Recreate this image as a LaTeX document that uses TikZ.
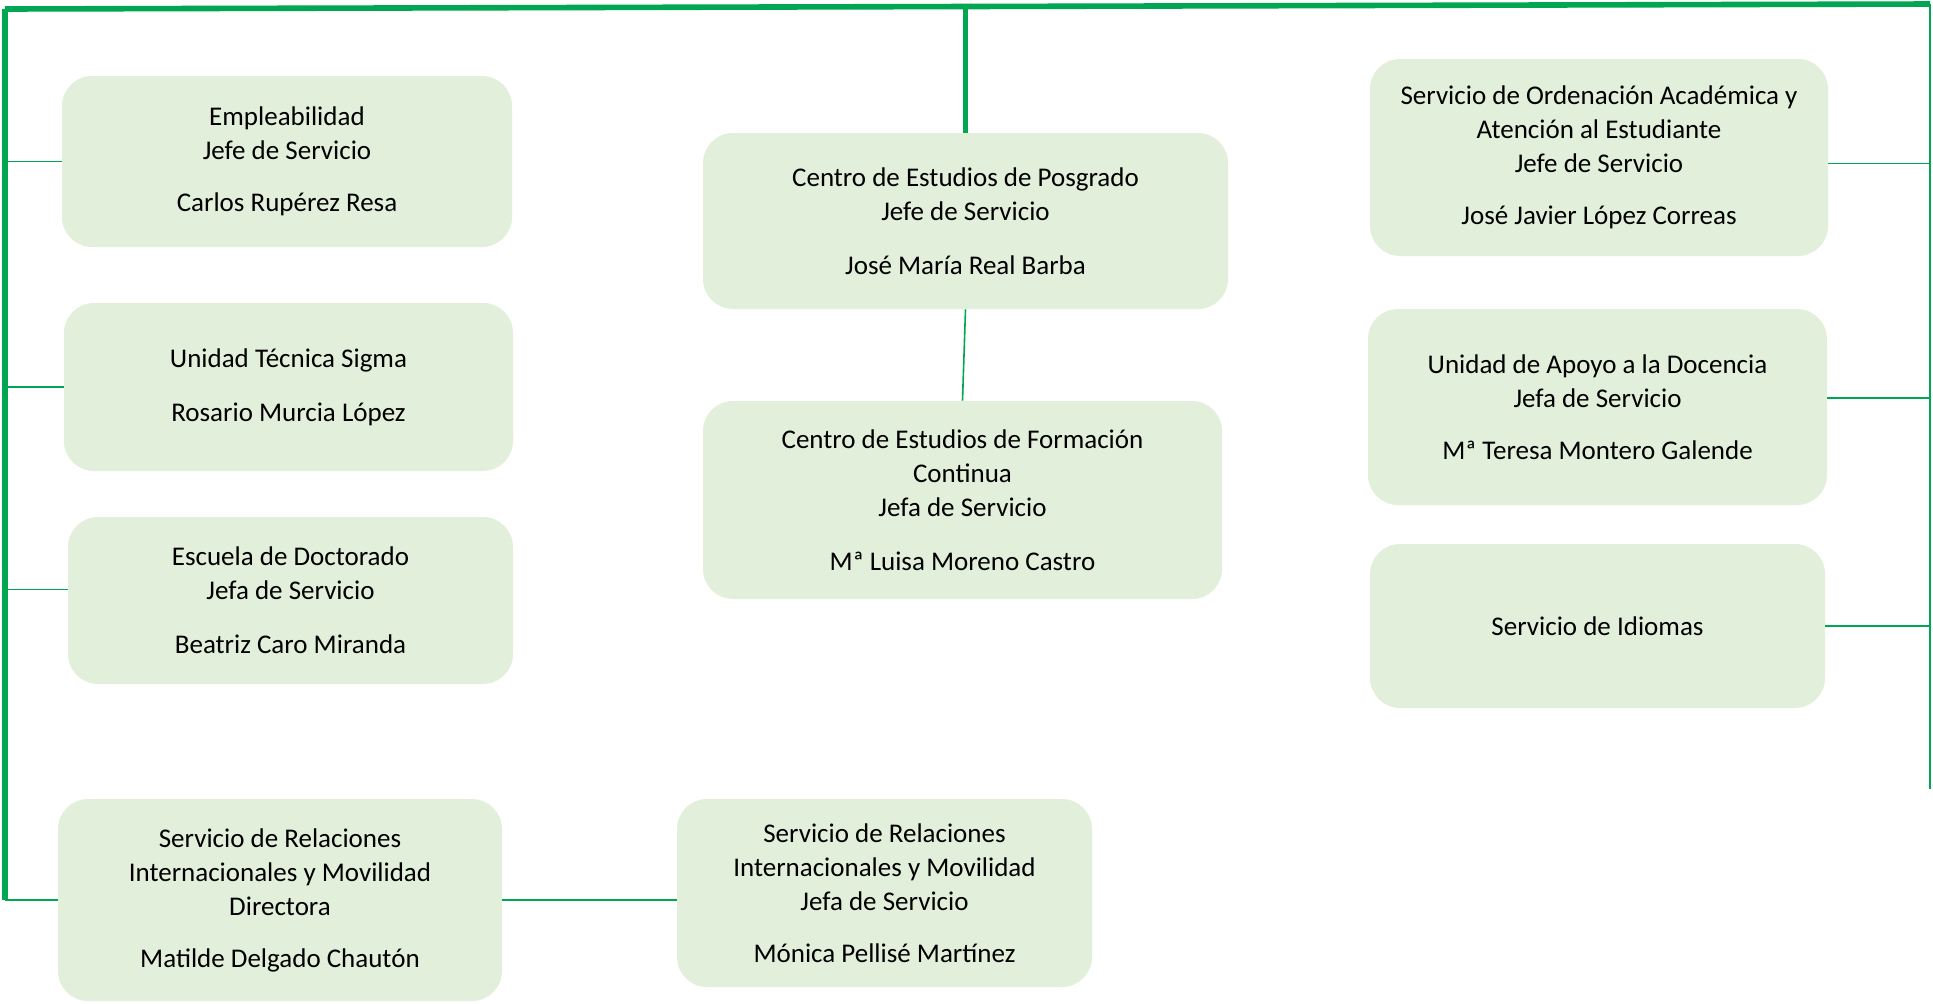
\documentclass[tikz,border=0pt]{standalone}
\usepackage{fontspec}
\setmainfont{Carlito}
\usepackage{tikz}
\definecolor{boxgreen}{RGB}{226,239,218}
\definecolor{linegreen}{RGB}{0,166,81}
\tikzstyle{unit} = [rectangle, rounded corners=15pt, inner sep=0pt, text centered, align=center, fill=boxgreen, font=\fontsize{13.5}{17}\selectfont]
\tikzstyle{trunk} = [line width=2.8pt, draw=linegreen]
\tikzstyle{branch} = [line width=1pt, draw=linegreen]
\tikzstyle{link} = [line width=0.8pt, draw=linegreen]

\begin{document}
\begin{tikzpicture}[x=0.5pt, y=-0.5pt]
				\useasboundingbox (0,0) rectangle (1933,1003);
				
				\coordinate (topleft) at (5,9);
				\coordinate (topright) at (1930,4);
				\coordinate (rightend) at (1930,789);
				
				\node(emp) [unit, minimum width=225pt, minimum height=85.5pt] at (287,161.5) {Empleabilidad\\Jefe de Servicio\\[9pt]Carlos Rupérez Resa};
				\node(sigma) [unit, minimum width=224.5pt, minimum height=84pt] at (288.5,387) {Unidad Técnica Sigma\\[10pt]Rosario Murcia López};
				\node(doct) [unit, minimum width=222.5pt, minimum height=83.5pt] at (290.5,600.5) {Escuela de Doctorado\\Jefa de Servicio\\[10pt]Beatriz Caro Miranda};
				\node(rri1) [unit, minimum width=222pt, minimum height=101pt] at (280,900) {Servicio de Relaciones\\Internacionales y Movilidad\\Directora\\[9pt]Matilde Delgado Chautón};
				\node(rri2) [unit, minimum width=207.5pt, minimum height=94pt] at (884.5,893) {Servicio de Relaciones\\Internacionales y Movilidad\\Jefa de Servicio\\[9pt]Mónica Pellisé Martínez};
				
				\node(posg) [unit, minimum width=262.5pt, minimum height=88pt] at (965.5,221) {Centro de Estudios de Posgrado\\Jefe de Servicio\\[10pt]José María Real Barba};
				\node(fcont) [unit, minimum width=259.5pt, minimum height=99pt] at (962.5,500) {Centro de Estudios de Formación\\Continua\\Jefa de Servicio\\[10pt]Mª Luisa Moreno Castro};
				
				\node(ordac) [unit, minimum width=229pt, minimum height=98.5pt] at (1599,157.5) {Servicio de Ordenación Académica y\\Atención al Estudiante\\Jefe de Servicio\\[9pt]José Javier López Correas};
				\node(apoyo) [unit, minimum width=229.5pt, minimum height=98pt] at (1597.5,407) {Unidad de Apoyo a la Docencia\\Jefa de Servicio\\[9pt]Mª Teresa Montero Galende};
				\node(idiom) [unit, minimum width=227.5pt, minimum height=82pt] at (1597.5,626) {Servicio de Idiomas};
				
				\draw[trunk] (topleft) -- (topright);
				\draw[trunk] (topleft) -- (topleft |- rri1.west);
				\draw[trunk] (posg.north) -- (posg.north |- topleft);
				\draw[branch] (topright) -- (rightend);
				
				\draw[link] (emp.west) -- (emp.west -| topleft);
				\draw[link] (sigma.west) -- (sigma.west -| topleft);
				\draw[link] ([yshift=5.5pt]doct.west) -- ([yshift=5.5pt]doct.west -| topleft);
				\draw[link] (rri1.west) -- (rri1.west -| topleft);
				\draw[link] (rri1.east) -- (rri1.east -| rri2.west);
				\draw[link] (posg.south) -- (fcont.north);
				\draw[link] ([yshift=-3pt]ordac.east) -- ([yshift=-3pt]ordac.east -| topright);
				\draw[link] ([yshift=4.5pt]apoyo.east) -- ([yshift=4.5pt]apoyo.east -| topright);
				\draw[link] (idiom.east) -- (idiom.east -| topright);
				
			\end{tikzpicture}
\end{document}
